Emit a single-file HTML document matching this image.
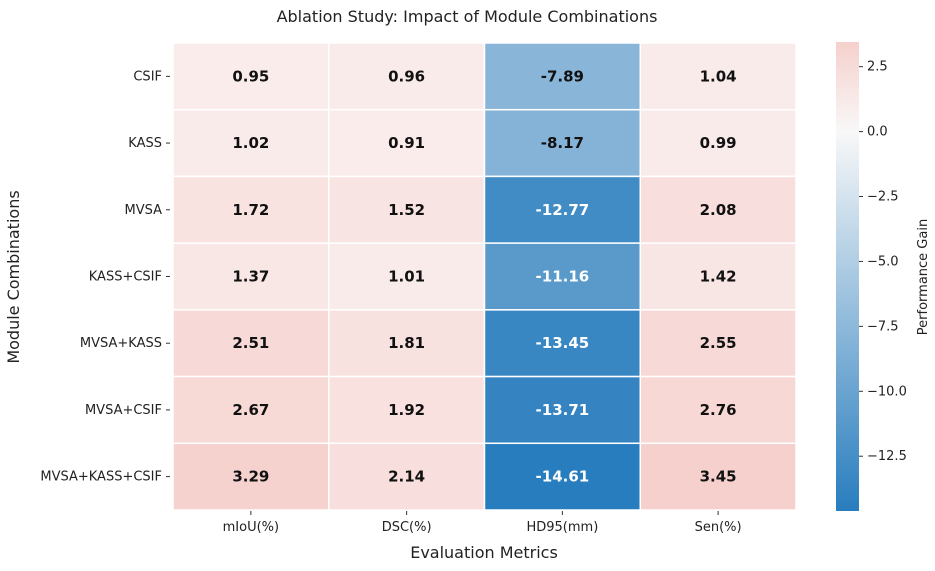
<!DOCTYPE html>
<html><head><meta charset="utf-8"><style>
body{margin:0;background:#fff;}
svg text{font-family:"DejaVu Sans","Liberation Sans",sans-serif;}
</style></head><body>
<svg id="chart" width="935" height="566" viewBox="0 0 935 566" xmlns="http://www.w3.org/2000/svg">
<defs>
<linearGradient id="cbgrad" x1="0" y1="1" x2="0" y2="0">
<stop offset="0" stop-color="rgb(40,125,190)"/>
<stop offset="0.809" stop-color="rgb(248,248,248)"/>
<stop offset="1" stop-color="rgb(246,208,204)"/>
</linearGradient>
</defs>
<text x="467" y="22" text-anchor="middle" font-size="16" fill="#222">Ablation Study: Impact of Module Combinations</text>
<g id="cells"></g>
<text x="484" y="558" text-anchor="middle" font-size="16" fill="#222">Evaluation Metrics</text>
<text transform="translate(19,277) rotate(-90)" text-anchor="middle" font-size="16" fill="#222">Module Combinations</text>
<rect x="836" y="42" width="23" height="469" fill="url(#cbgrad)"/>
<g id="cbticks"></g>
<text transform="translate(927,277) rotate(-90)" text-anchor="middle" font-size="13" fill="#222">Performance Gain</text>
</svg>
<script>
const rows = ["CSIF","KASS","MVSA","KASS+CSIF","MVSA+KASS","MVSA+CSIF","MVSA+KASS+CSIF"];
const cols = ["mIoU(%)","DSC(%)","HD95(mm)","Sen(%)"];
const mIoU = [0.95,1.02,1.72,1.37,2.51,2.67,3.29];
const DSC = [0.96,0.91,1.52,1.01,1.81,1.92,2.14];
const HD95 = [-7.89,-8.17,-12.77,-11.16,-13.45,-13.71,-14.61];
const Sen = [1.04,0.99,2.08,1.42,2.55,2.76,3.45];
const cbTicks = [2.5,0.0,-2.5,-5.0,-7.5,-10.0,-12.5];
const series=[mIoU,DSC,HD95,Sen];
const all=series.flat();
const vmin=Math.min(...all), vmax=Math.max(...all);
const X0=173,X1=796,Y0=43,Y1=510;
const cw=(X1-X0)/cols.length, rh=(Y1-Y0)/rows.length;
const NS="http://www.w3.org/2000/svg";
function color(v){
  const w=[250,246,246];
  let t,c;
  if(v<0){t=v/vmin;c=[40,125,190];}
  else{t=v/3.45;c=[246,208,204];}
  t=Math.min(1,Math.max(0,t));
  return `rgb(${w.map((a,i)=>Math.round(a+(c[i]-a)*t)).join(',')})`;
}
const g=document.getElementById('cells');
function mk(tag,attrs,parent){const e=document.createElementNS(NS,tag);for(const k in attrs)e.setAttribute(k,attrs[k]);parent.appendChild(e);return e;}
series.forEach((s,ci)=>{
  s.forEach((v,ri)=>{
    const r=mk('rect',{x:X0+ci*cw,y:Y0+ri*rh,width:cw,height:rh,fill:color(v),stroke:'#fff','stroke-width':1.5},g);
    
    
    const t=mk('text',{x:X0+(ci+0.5)*cw,y:Y0+(ri+0.5)*rh+5,'text-anchor':'middle','font-size':15,'font-weight':'bold',fill:v<-10?'#fff':'#111'},g);
    t.textContent=v.toFixed(2);
    
    
  });
});
rows.forEach((name,ri)=>{
  const y=Y0+(ri+0.5)*rh;
  const t=mk('text',{x:162,y:y+4,'text-anchor':'end','font-size':13,fill:'#222'},g);
  t.textContent=name;
  
  
  const l=mk('line',{x1:166,x2:170,y1:y,y2:y,stroke:'#333'},g);
  
  
});
cols.forEach((name,ci)=>{
  const x=X0+(ci+0.5)*cw;
  const l=mk('line',{x1:x,x2:x,y1:511,y2:515,stroke:'#333'},g);
  
  
  const t=mk('text',{x:x,y:531,'text-anchor':'middle','font-size':13,fill:'#222'},g);
  t.textContent=name;
  
  
});
const cb=document.getElementById('cbticks');
const cy=v=>42+(vmax-v)/(vmax-vmin)*469;
cbTicks.forEach(v=>{
  const y=cy(v);
  const l=mk('line',{x1:859,x2:863,y1:y,y2:y,stroke:'#333'},cb);
  
  
  const t=mk('text',{x:867,y:y+4,'font-size':13,fill:'#222'},cb);
  t.textContent=(v<0?'\u2212':'')+Math.abs(v).toFixed(1);
  
  
});
</script>
</body></html>
